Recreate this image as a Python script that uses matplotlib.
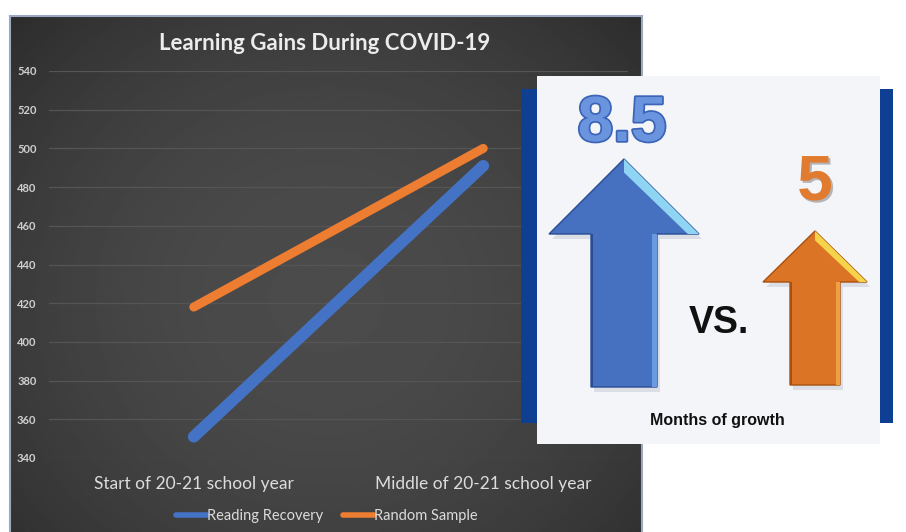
import numpy as np
import matplotlib.pyplot as plt
from matplotlib.patches import Rectangle, Polygon
import matplotlib.patheffects as pe

# chart data
categories = ['Start of 20-21 school year', 'Middle of 20-21 school year']
reading_recovery = [351, 491]
random_sample = [418, 500]
series_names = ['Reading Recovery', 'Random Sample']
y_ticks = list(range(340, 541, 20))

# infographic text
growth_rr = '8.5'
growth_rs = '5'

W, H = 906, 532
fig = plt.figure(figsize=(W / 100, H / 100), dpi=100)
fig.patch.set_facecolor('white')


def fbox(x0, y0, x1, y1):
    # pixel box (top-left origin) -> figure rect
    return [x0 / W, 1 - y1 / H, (x1 - x0) / W, (y1 - y0) / H]


# dark panel with soft vignette
bg = fig.add_axes(fbox(10, 16, 642, 532))
yy, xx = np.mgrid[0:1:200j, 0:1:300j]
r = np.sqrt(((xx - 0.5) / 0.75) ** 2 + ((yy - 0.55) / 0.85) ** 2)
shade = np.clip(0.295 - 0.14 * r ** 2, 0.12, 0.31)
bg.imshow(shade, cmap='gray', vmin=0, vmax=1, aspect='auto', extent=[0, 1, 1, 0])
bg.set_xlim(0, 1)
bg.set_ylim(1, 0)
bg.axis('off')
for sx, sy in [([0, 0], [1, 0]), ([0, 1], [0, 0]), ([1, 1], [0, 1])]:
    bg.plot(sx, sy, color='#9aa8c0', lw=1.5, clip_on=False)

# line chart
ax = fig.add_axes(fbox(49, 71, 628, 458))
ax.patch.set_alpha(0)
x = np.arange(len(categories))
ax.plot(x, reading_recovery, color='#4472C4', lw=8.5, solid_capstyle='round',
        label=series_names[0], zorder=3)
ax.plot(x, random_sample, color='#ED7D31', lw=6.5, solid_capstyle='round',
        label=series_names[1], zorder=3)
ax.set_xlim(-0.5, 1.5)
ax.set_ylim(340, 540)
ax.set_yticks(y_ticks)
ax.set_xticks(x)
ax.set_xticklabels(categories, fontfamily='Lato', fontsize=12.5, color='#dcdcdc')
for lbl in ax.get_yticklabels():
    lbl.set_fontfamily('Lato')
    lbl.set_fontweight('bold')
ax.tick_params(axis='y', length=0, pad=9, labelsize=8, labelcolor='#d0d0d0')
ax.tick_params(axis='x', length=0, pad=13)
ax.grid(axis='y', color='#555555', lw=0.9)
ax.set_axisbelow(True)
for s in ax.spines.values():
    s.set_visible(False)

fig.text(325 / W, 1 - 43 / H, 'Learning Gains During COVID-19', ha='center', va='center',
         fontfamily='Lato', fontweight='bold', fontsize=16, color='#ececec')

h, l = ax.get_legend_handles_labels()
leg = fig.legend(h, l, loc='center', bbox_to_anchor=(327 / W, 1 - 516 / H), ncol=2,
                 frameon=False, handlelength=2.1, handletextpad=0.05, columnspacing=1.35,
                 prop={'family': 'Lato', 'size': 10.5})
for t in leg.get_texts():
    t.set_color('#dcdcdc')
for ln in leg.get_lines():
    ln.set_linewidth(4)

# infographic overlay
ov = fig.add_axes([0, 0, 1, 1], zorder=5)
ov.set_xlim(0, W)
ov.set_ylim(H, 0)
ov.patch.set_alpha(0)
ov.axis('off')

ov.add_patch(Rectangle((521, 89), 16, 334, fc='#0e3f92', ec='none'))
ov.add_patch(Rectangle((880, 89), 13, 334, fc='#0e3f92', ec='none'))
ov.add_patch(Rectangle((537, 76), 343, 368, fc='#f3f5f9', ec='none'))


def up_arrow(tip_x, tip_y, half_head, head_y, half_shaft, bottom, face, dark, light, bevel):
    cx = tip_x
    shape = [(cx, tip_y), (cx + half_head, head_y), (cx + half_shaft, head_y),
             (cx + half_shaft, bottom), (cx - half_shaft, bottom),
             (cx - half_shaft, head_y), (cx - half_head, head_y)]
    shadow = [(px + 3, py + 5) for px, py in shape]
    ov.add_patch(Polygon(shadow, closed=True, fc='#c4c8d0', ec='none', alpha=0.5))
    ov.add_patch(Polygon(shape, closed=True, fc=face, ec=dark, lw=1))
    # bevel on right slope of head
    b = 0.1
    ov.add_patch(Polygon([(cx, tip_y), (cx + half_head, head_y),
                          (cx + half_head * (1 - b * 1.5), head_y),
                          (cx, tip_y + half_head * b * 1.8)], closed=True, fc=bevel, ec='none'))
    # lit strip on right side of shaft
    ov.add_patch(Rectangle((cx + half_shaft * 0.85, head_y), half_shaft * 0.15, bottom - head_y,
                           fc=light, ec='none'))
    # dark edge on left of shaft
    ov.add_patch(Rectangle((cx - half_shaft, head_y), half_shaft * 0.07, bottom - head_y,
                           fc=dark, ec='none'))


up_arrow(624, 159, 75, 234, 33, 387, '#4670c0', '#2a4c94', '#6a9ae0', '#8fd4f2')
up_arrow(815, 231, 52, 282, 25, 385, '#dc7425', '#a85010', '#f0a040', '#f6d44a')

ov.text(622, 124, growth_rr, ha='center', va='center', fontfamily='Liberation Sans',
        fontweight='bold', fontsize=46, color='#6a95de',
        path_effects=[pe.Stroke(linewidth=2.5, foreground='#3b63b6'), pe.Normal()])
ov.text(815, 183, growth_rs, ha='center', va='center', fontfamily='Liberation Sans',
        fontweight='bold', fontsize=46, color='#e07b30',
        path_effects=[pe.withSimplePatchShadow(offset=(1.5, -1.5), shadow_rgbFace='#8a8a8a',
                                               alpha=0.6)])
ov.text(719, 323, 'VS.', ha='center', va='center', fontfamily='Liberation Sans',
        fontweight='bold', fontsize=27, color='#111111')
ov.text(717, 421, 'Months of growth', ha='center', va='center', fontfamily='Liberation Sans',
        fontweight='bold', fontsize=11.5, color='#111111')

fig.savefig('out.png', dpi=100)
